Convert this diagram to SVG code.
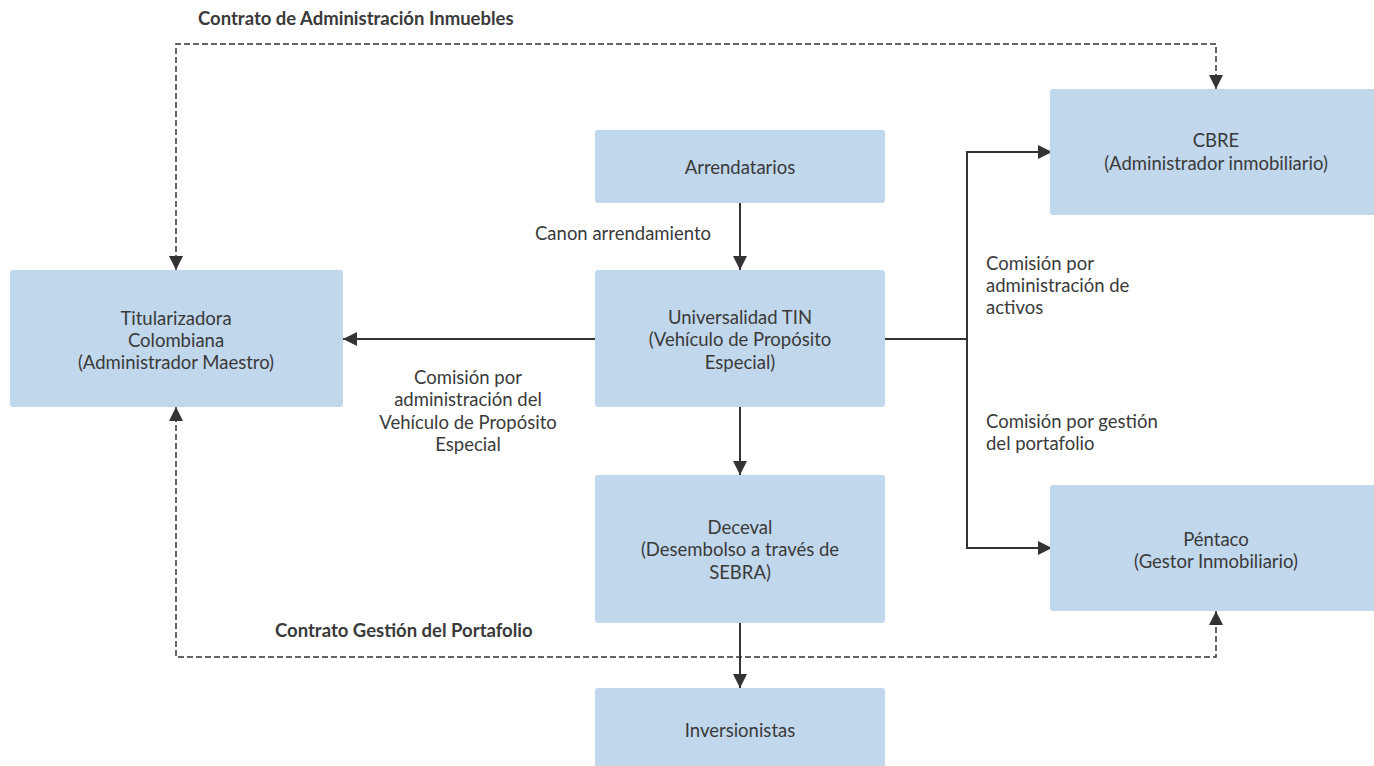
<svg xmlns="http://www.w3.org/2000/svg" width="1374" height="766" viewBox="0 0 1374 766">
<defs>
<style>
.box{fill:#c1d7ec;}
.t{font-family:Lato,"Noto Sans",sans-serif;font-size:18.5px;fill:#3a3a3a;}
.c{text-anchor:middle;}
.b{font-weight:bold;font-size:18.5px;}
.ln{fill:none;stroke:#333;stroke-width:2;}
.dash{fill:none;stroke:#333;stroke-width:1.5;stroke-dasharray:6 3;}
</style>
<marker id="ah" viewBox="0 0 10 10" refX="10" refY="5" markerWidth="14" markerHeight="14" markerUnits="userSpaceOnUse" orient="auto-start-reverse">
<path d="M0,0 L10,5 L0,10 Z" fill="#333"/>
</marker>
</defs>
<rect width="1374" height="766" fill="#fff"/>

<g id="connectors">
<path class="ln" d="M740,203 V270" marker-end="url(#ah)"/>
<path class="ln" d="M597,339 H343" marker-end="url(#ah)"/>
<path class="ln" d="M740,407 V475" marker-end="url(#ah)"/>
<path class="ln" d="M740,623 V688" marker-end="url(#ah)"/>
<path class="ln" d="M884,339 H967"/>
<path class="ln" d="M967,339 V152 H1052" marker-end="url(#ah)"/>
<path class="ln" d="M967,339 V548 H1052" marker-end="url(#ah)"/>
<path class="dash" d="M176,270 V44 H1216 V89" marker-start="url(#ah)" marker-end="url(#ah)"/>
<path class="dash" d="M176,407 V657 H1216 V611" marker-start="url(#ah)" marker-end="url(#ah)"/>
</g>

<g id="arrendatarios">
<rect class="box" x="595" y="130" width="290" height="73" rx="3"/>
<text class="t c" x="740" y="174">Arrendatarios</text>
</g>
<g id="universalidad">
<rect class="box" x="595" y="270" width="290" height="137" rx="3"/>
<text class="t c" x="740" y="324">Universalidad TIN</text>
<text class="t c" x="740" y="346">(Vehículo de Propósito</text>
<text class="t c" x="740" y="369">Especial)</text>
</g>
<g id="deceval">
<rect class="box" x="595" y="475" width="290" height="148" rx="3"/>
<text class="t c" x="740" y="534">Deceval</text>
<text class="t c" x="740" y="556">(Desembolso a través de</text>
<text class="t c" x="740" y="579">SEBRA)</text>
</g>
<g id="inversionistas">
<rect class="box" x="595" y="688" width="290" height="90" rx="3"/>
<text class="t c" x="740" y="737">Inversionistas</text>
</g>
<g id="titularizadora">
<rect class="box" x="10" y="270" width="333" height="137" rx="3"/>
<text class="t c" x="176" y="325">Titularizadora</text>
<text class="t c" x="176" y="347">Colombiana</text>
<text class="t c" x="176" y="369">(Administrador Maestro)</text>
</g>
<g id="cbre">
<rect class="box" x="1050" y="89" width="330" height="126" rx="3"/>
<text class="t c" x="1216" y="147">CBRE</text>
<text class="t c" x="1216" y="170">(Administrador inmobiliario)</text>
</g>
<g id="pentaco">
<rect class="box" x="1050" y="485" width="330" height="126" rx="3"/>
<text class="t c" x="1216" y="546">Péntaco</text>
<text class="t c" x="1216" y="568">(Gestor Inmobiliario)</text>
</g>

<g id="labels">
<text class="t b" x="198" y="25">Contrato de Administración Inmuebles</text>
<text class="t b" x="275" y="637">Contrato Gestión del Portafolio</text>
<text class="t" x="535" y="240">Canon arrendamiento</text>
<text class="t c" x="468" y="384">Comisión por</text>
<text class="t c" x="468" y="406">administración del</text>
<text class="t c" x="468" y="429">Vehículo de Propósito</text>
<text class="t c" x="468" y="451">Especial</text>
<text class="t" x="986" y="270">Comisión por</text>
<text class="t" x="986" y="292">administración de</text>
<text class="t" x="986" y="314">activos</text>
<text class="t" x="986" y="428">Comisión por gestión</text>
<text class="t" x="986" y="450">del portafolio</text>
</g>
</svg>
